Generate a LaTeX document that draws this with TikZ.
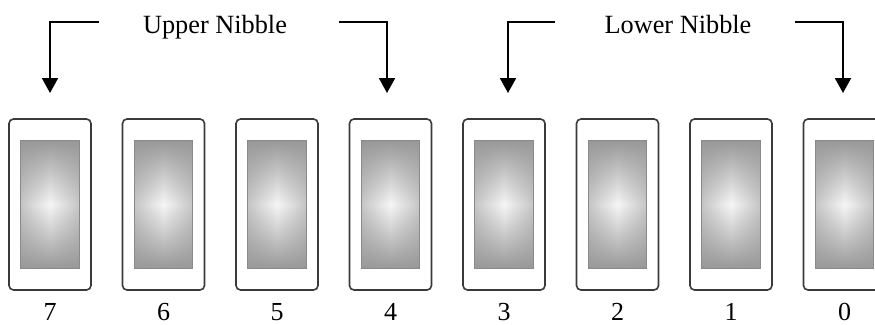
\documentclass[tikz,border=0pt]{standalone}
\usepackage{fontspec}
\setmainfont{Liberation Serif}
\usetikzlibrary{arrows.meta}

\definecolor{framegray}{HTML}{3A3A3A}
\definecolor{rimgray}{HTML}{8A8A8A}

% soft pyramid glow: bright centre, darker towards top/bottom, lighter at sides
% (the path's box maps onto the inner square 25bp..75bp)
\pgfdeclarefunctionalshading{switchglow}{\pgfpointorigin}{\pgfpoint{100bp}{100bp}}{}{
  50 sub abs 25 div
  exch 50 sub abs 25 div
  1 index 1 exch sub mul 0.19 mul
  exch 0.37 mul add
  0.965 exch sub
  dup dup
}

\tikzset{
  bitframe/.style={draw=framegray, line width=1.6pt, rounded corners=4.5pt,
    minimum width=82pt, minimum height=171pt, inner sep=0pt, fill=white},
  bitface/.style={minimum width=58pt, minimum height=128pt, inner sep=0pt},
  facerim/.style={draw=rimgray, line width=0.8pt},
  bitnum/.style={font=\fontsize{26}{30}\selectfont, anchor=base},
  nibble/.style={font=\fontsize{26.3}{30}\selectfont, anchor=base},
  pointer/.style={line width=2pt, -{Triangle[width=16pt,length=15pt]}}
}

\begin{document}
\begin{tikzpicture}[x=1pt, y=-1pt]
  \useasboundingbox (0,0) rectangle (875,324);

  % eight bit switches, bit 7 on the left
  \foreach \b [count=\k from 0] in {7,6,5,4,3,2,1,0} {
    \pgfmathsetmacro{\cx}{50+113.5*\k}
    \node[bitframe] (b\b) at (\cx,204.5) {};
    \node[bitface] (f\b) at (\cx,204.5) {};
    \shade[shading=switchglow] (f\b.north west) rectangle (f\b.south east);
    \draw[facerim] (f\b.north west) rectangle (f\b.south east);
    \node[bitnum] (n\b) at (\cx,320) {\b};
  }

  % nibble labels
  \node[nibble] (upper) at (215,33) {Upper Nibble};
  \node[nibble] (lower) at (678,33) {Lower Nibble};

  % pointer end points
  \coordinate (ul0) at (99,22);  \coordinate (ul1) at (50,93);
  \coordinate (ur0) at (339,22); \coordinate (ur1) at (387,93);
  \coordinate (ll0) at (555,22); \coordinate (ll1) at (508,93);
  \coordinate (lr0) at (795,22); \coordinate (lr1) at (843,93);

  \draw[pointer] (ul0) -| (ul1);
  \draw[pointer] (ur0) -| (ur1);
  \draw[pointer] (ll0) -| (ll1);
  \draw[pointer] (lr0) -| (lr1);
\end{tikzpicture}
\end{document}
